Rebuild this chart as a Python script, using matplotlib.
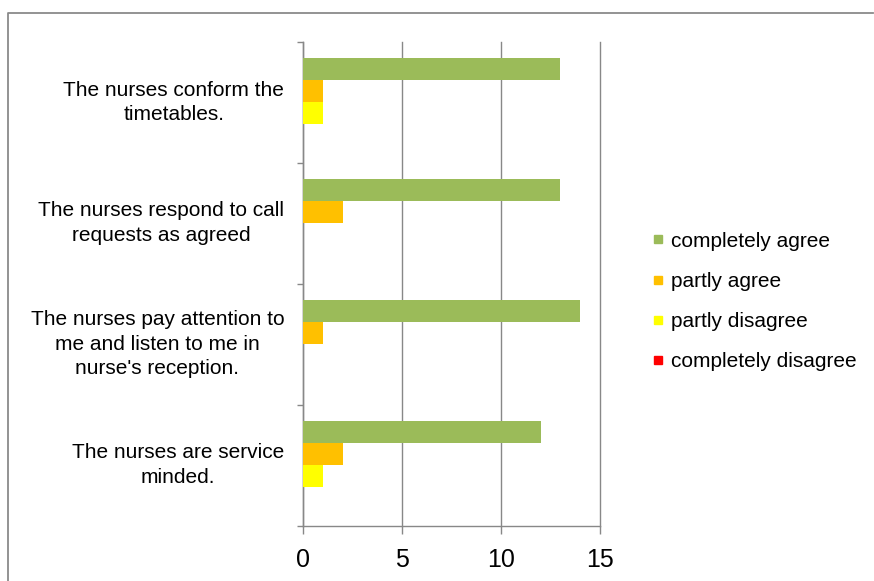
import matplotlib
matplotlib.use("Agg")
import matplotlib.pyplot as plt
from matplotlib.lines import Line2D
import numpy as np

plt.rcParams['font.family'] = ['Liberation Sans', 'DejaVu Sans']

statements = [
    "The nurses conform the\ntimetables.",
    "The nurses respond to call\nrequests as agreed",
    "The nurses pay attention to\nme and listen to me in\nnurse's reception.",
    "The nurses are service\nminded.",
]
series_names = ["completely agree", "partly agree", "partly disagree", "completely disagree"]
completely_agree = [13, 13, 14, 12]
partly_agree = [1, 2, 1, 2]
partly_disagree = [1, 0, 0, 1]
completely_disagree = [0, 0, 0, 0]
series_values = [completely_agree, partly_agree, partly_disagree, completely_disagree]
colors = ["#9BBB59", "#FFC000", "#FFFF00", "#FF0000"]
x_ticks = [0, 5, 10, 15]

W, H = 874, 581
fig = plt.figure(figsize=(W / 100, H / 100), dpi=100)

# outer chart frame (left and top edges)
fig.add_artist(Line2D([8 / W, 8 / W, 873 / W], [0, 1 - 13 / H, 1 - 13 / H],
                      transform=fig.transFigure, color="#8a8a8a", lw=1.3))

left, right, top, bottom = 303, 600, 42, 525.5
ax = fig.add_axes([left / W, 1 - bottom / H, (right - left) / W, (bottom - top) / H])

grid_color = "#888888"
y = np.arange(len(statements))
bar_h = 22 / 121
for i, (name, vals, c) in enumerate(zip(series_names, series_values, colors)):
    ax.barh(y + (i - 1.5) * bar_h, vals, height=bar_h, color=c, label=name, zorder=3)

ax.set_xlim(0, 15)
ax.set_ylim(len(statements) - 0.5, -0.5)
ax.set_xticks(x_ticks)
ax.set_xticklabels([str(t) for t in x_ticks], fontsize=18)
ax.xaxis.grid(True, color=grid_color, lw=1.0, zorder=0)
for gl in ax.get_xgridlines():
    gl.set_clip_on(False)

ax.set_yticks(y)
ax.set_yticklabels(statements, fontsize=15)
for lbl in ax.get_yticklabels():
    lbl.set_multialignment("center")
    lbl.set_linespacing(1.38)
    lbl.set_verticalalignment("center")
ax.tick_params(axis="y", which="major", length=0, pad=13.5)
ax.set_yticks(np.arange(-0.5, len(statements)), minor=True)
ax.tick_params(axis="y", which="minor", length=4.5, width=1.0, color=grid_color)
ax.tick_params(axis="x", which="major", length=6, width=1.0, color=grid_color, pad=10.5)

for s in ["top", "right"]:
    ax.spines[s].set_visible(False)
for s in ["left", "bottom"]:
    ax.spines[s].set_color(grid_color)
    ax.spines[s].set_linewidth(1.0)

handles = [Line2D([], [], marker="s", markersize=6, linestyle="none",
                  markerfacecolor=c, markeredgecolor=c) for c in colors]
fig.legend(handles, series_names, loc="center left",
           bbox_to_anchor=(652 / W, 1 - 301.5 / H), frameon=False, fontsize=15,
           handlelength=0.6, handletextpad=0.3, labelspacing=1.02, borderpad=0,
           borderaxespad=0)

fig.savefig("out.png", dpi=100)
